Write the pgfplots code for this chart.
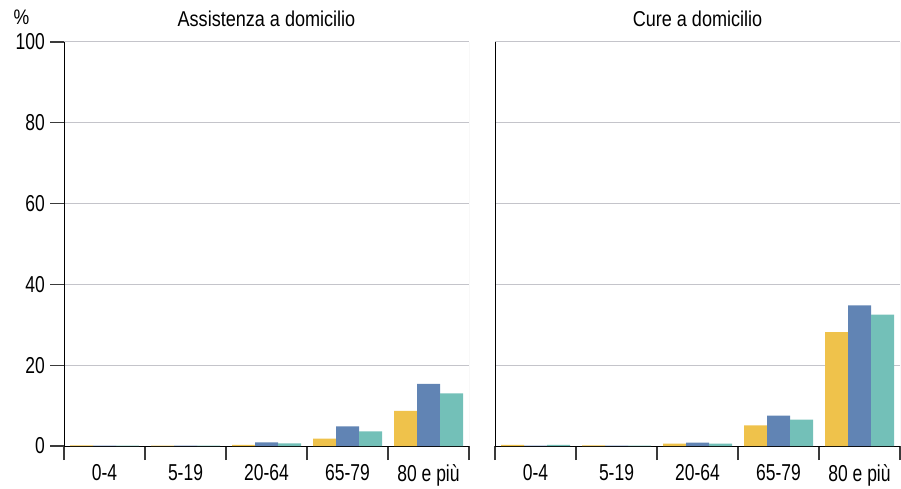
\documentclass[border=0pt]{standalone}
\usepackage{fontspec}
\setmainfont{Liberation Sans}[FakeStretch=0.84]
\newfontfamily\cond{Liberation Sans}[FakeStretch=0.76]
\usepackage{pgfplots}
\pgfplotsset{compat=1.18}

\definecolor{cYel}{HTML}{EFC24B}
\definecolor{cBlu}{HTML}{6184B4}
\definecolor{cTea}{HTML}{73C0B8}
\definecolor{gridc}{HTML}{C4C4CA}
\definecolor{tickc}{HTML}{3A3A3A}

\pgfplotsset{panel/.style={
  scale only axis, width=405pt, height=404pt,
  anchor=south west,
  xmin=-0.5, xmax=4.5, ymin=0, ymax=100,
  axis x line*=bottom, axis y line*=left,
  axis line style={-, black, line width=1pt},
  ybar=0pt, bar width=23pt,
  xtick={-0.5,0.5,...,4.5}, xticklabels={},
  extra x ticks={0,1,2,3,4},
  extra x tick labels={0-4,5-19,20-64,65-79,80 e più},
  extra x tick style={tick style={draw=none}},
  ytick={0,20,...,100},
  ymajorgrids, grid style={gridc, line width=1pt},
  tick align=outside, major tick length=14pt,
  tick style={line width=1.2pt, tickc},
  /pgf/number format/assume math mode=true,
  xticklabel style={font=\cond\fontsize{23}{24}\selectfont, inner sep=4pt},
  yticklabel style={font=\cond\fontsize{23}{24}\selectfont, inner sep=5pt},
  title style={at={(0.5,1)}, anchor=base, yshift=9pt,
    font=\fontsize{21.5}{24}\selectfont},
}}

\begin{document}
\begin{tikzpicture}
\path[use as bounding box] (0,0) rectangle (901pt,488pt);

% Assistenza a domicilio
\begin{axis}[panel, at={(64pt,42pt)}, title={Assistenza a domicilio}]
\addplot[fill=cYel, draw=none] coordinates {(0,0.15) (1,0.1) (2,0.25) (3,1.8) (4,8.7)};
\addplot[fill=cBlu, draw=none] coordinates {(0,0.1) (1,0.1) (2,0.9) (3,4.85) (4,15.4)};
\addplot[fill=cTea, draw=none] coordinates {(0,0.1) (1,0.1) (2,0.65) (3,3.6) (4,13.0)};
\draw[gridc, line width=1pt] (rel axis cs:1,0) -- (rel axis cs:1,1);
\end{axis}

% Cure a domicilio
\begin{axis}[panel, at={(495pt,42pt)}, title={Cure a domicilio},
  yticklabels={}, ytick style={draw=none}]
\addplot[fill=cYel, draw=none] coordinates {(0,0.3) (1,0.15) (2,0.6) (3,5.1) (4,28.2)};
\addplot[fill=cBlu, draw=none] coordinates {(0,0.1) (1,0.1) (2,0.85) (3,7.5) (4,34.8)};
\addplot[fill=cTea, draw=none] coordinates {(0,0.3) (1,0.1) (2,0.6) (3,6.5) (4,32.5)};
\draw[gridc, line width=1pt] (rel axis cs:1,0) -- (rel axis cs:1,1);
\end{axis}

\node[anchor=base, font=\fontsize{21}{24}\selectfont] at (21.5pt,463pt) {\%};
\end{tikzpicture}
\end{document}
